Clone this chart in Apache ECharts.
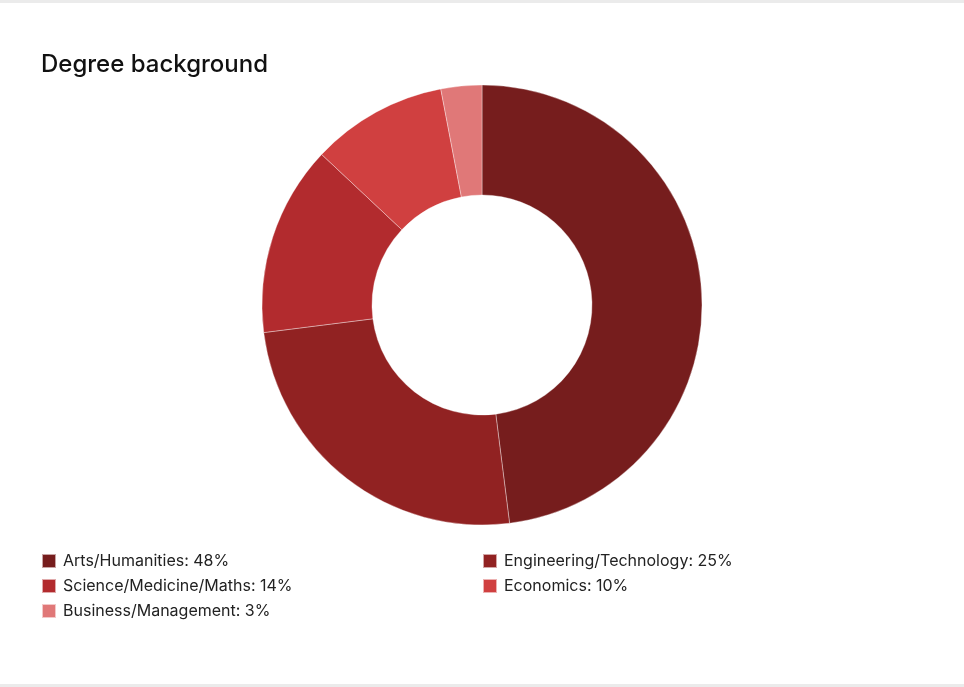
<!DOCTYPE html>
<html>
<head>
<meta charset="utf-8">
<script src="https://cdn.jsdelivr.net/npm/echarts@6/dist/echarts.min.js"></script>
<style>
html,body{margin:0;padding:0;background:#fff;}
#wrap{position:relative;width:964px;height:687px;}
#topbar{position:absolute;left:0;top:0;width:964px;height:3px;background:#ebebeb;}
#botbar{position:absolute;left:0;top:684px;width:964px;height:3px;background:#ebebeb;}
#chart{position:absolute;left:0;top:0;width:964px;height:687px;}
</style>
</head>
<body>
<div id="wrap"><div id="chart"></div><div id="topbar"></div><div id="botbar"></div></div>
<script>
const categories = ['Arts/Humanities','Engineering/Technology','Science/Medicine/Maths','Economics','Business/Management'];
const values = [48, 25, 14, 10, 3];
const colors = ['#761d1d','#912222','#b22b2e','#d04040','#e07878'];
const leftLegend = ['Arts/Humanities','Science/Medicine/Maths','Business/Management'];
const rightLegend = ['Engineering/Technology','Economics'];

const valueOf = {};
categories.forEach((c,i)=>valueOf[c]=values[i]);
const font = 'Inter, Liberation Sans, Arial, sans-serif';
const legendBase = {
  orient:'vertical', top: 548, itemWidth:14, itemHeight:14, itemGap:9,
  icon:'rect', selectedMode:false,
  textStyle:{fontSize:16, color:'#222', fontFamily:font, lineHeight:16, padding:[0,0,0,2]},
  formatter: n => n + ': ' + valueOf[n] + '%'
};
const chart = echarts.init(document.getElementById('chart'), null, {renderer:'canvas'});
chart.setOption({
  animation:false,
  title:{text:'Degree background', left:36, top:48,
    textStyle:{fontSize:24, fontWeight:500, color:'#111', fontFamily:font}},
  legend:[
    Object.assign({}, legendBase, {left:36, data:leftLegend}),
    Object.assign({}, legendBase, {left:477, data:rightLegend})
  ],
  series:[{
    type:'pie', center:[482,305], radius:[110,220], startAngle:90, clockwise:true,
    label:{show:false}, labelLine:{show:false},
    itemStyle:{borderColor:'rgba(255,255,255,0.6)', borderWidth:0.6},
    emphasis:{disabled:true},
    data: categories.map((c,i)=>({name:c, value:values[i], itemStyle:{color:colors[i]}}))
  }]
});
</script>
</body>
</html>
